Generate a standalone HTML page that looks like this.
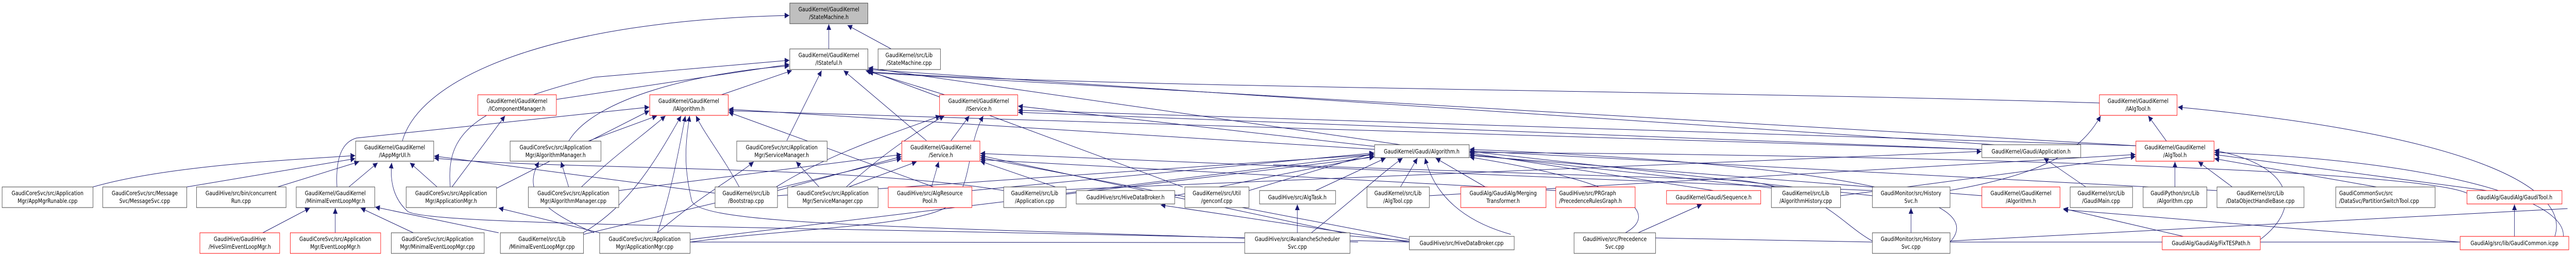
<!DOCTYPE html>
<html><head><meta charset="utf-8">
<style>
html,body{margin:0;padding:0;background:#fff;overflow:hidden;width:100%;height:100%;}
svg{display:block;width:100vw;height:100vh;}
text{font-family:"DejaVu Sans","Liberation Sans",sans-serif;font-size:11.5px;fill:#000;}
</style></head>
<body>
<svg viewBox="0 0 6070 499" preserveAspectRatio="none" xmlns="http://www.w3.org/2000/svg">
<defs>
<marker id="a" markerUnits="userSpaceOnUse" markerWidth="12" markerHeight="11" refX="11" refY="5.5" orient="auto">
<path d="M0,0 L11,5.5 L0,11 z" fill="#191970"/>
</marker>
</defs>
<rect width="6070" height="499" fill="#fff"/>
<g stroke="#191970" stroke-width="1" fill="none" marker-end="url(#a)">
<path d="M1953,95 L1953,47"/>
<path d="M2100,95 L1997,49"/>
<path d="M948,274 C990,150 1300,40 1860,30"/>
<path d="M1311,193 L1860,125"/>
<path d="M1340,274 C1400,190 1650,140 1860,128"/>
<path d="M1700,184 L1866,137"/>
<path d="M1854,273 L1936,137"/>
<path d="M2183,273 L1988,137"/>
<path d="M2226,184 L2040,137"/>
<path d="M1061,363 C1050,260 1110,210 1400,150 L1860,117"/>
<path d="M2787,363 L2046,137"/>
<path d="M3300,281 L2046,132"/>
<path d="M4700,281 L2046,135"/>
<path d="M4947,200 C4000,175 2500,170 2046,139"/>
<path d="M5033,283 L2046,141"/>
<path d="M219,363 C400,320 700,310 837,302"/>
<path d="M440,363 L837,308"/>
<path d="M654,363 L846,314"/>
<path d="M822,363 L890,316"/>
<path d="M1030,363 L966,316"/>
<path d="M3321,470 C2000,440 1000,440 960,410 C920,380 920,340 923,316"/>
<path d="M1684,375 L1023,303"/>
<path d="M2365,370 C2000,320 1300,330 1023,307"/>
<path d="M619,452 L730,404"/>
<path d="M790,452 L790,404"/>
<path d="M974,452 L850,404"/>
<path d="M1175,452 L884,402"/>
<path d="M1413,452 L1175,404"/>
<path d="M1065,363 L1190,225"/>
<path d="M1169,366 L1530,215"/>
<path d="M794,363 C790,300 810,275 840,268 L1530,208"/>
<path d="M1386,274 L1548,225"/>
<path d="M1370,363 C1450,300 1520,260 1568,225"/>
<path d="M1374,452 C1480,400 1540,320 1605,225"/>
<path d="M1742,363 C1700,300 1660,260 1640,225"/>
<path d="M1549,452 C1580,380 1600,290 1615,225"/>
<path d="M3200,470 C2200,440 1650,440 1630,390 C1610,320 1615,280 1625,225"/>
<path d="M3239,290 L1717,212"/>
<path d="M2200,363 L1717,218"/>
<path d="M4670,290 L1717,215"/>
<path d="M1340,363 L1322,314"/>
<path d="M1400,452 C1250,400 1240,360 1270,314"/>
<path d="M1930,363 L1876,314"/>
<path d="M1549,452 C1650,380 1740,340 1776,314"/>
<path d="M2241,273 L2284,225"/>
<path d="M1994,363 C2080,300 2150,260 2225,225"/>
<path d="M1829,363 C1950,300 2100,260 2216,225"/>
<path d="M1626,470 C1900,440 2200,440 2250,390 C2290,350 2280,280 2317,225"/>
<path d="M3300,290 L2399,206"/>
<path d="M5033,283 L2399,214"/>
<path d="M4670,290 L2399,218"/>
<path d="M2195,363 L2212,314"/>
<path d="M2000,363 L2160,314"/>
<path d="M1832,370 L2124,304"/>
<path d="M1375,455 L2124,308"/>
<path d="M1458,370 L2124,300"/>
<path d="M4412,370 L2310,298"/>
<path d="M3181,455 L2310,302"/>
<path d="M3321,465 L2310,306"/>
<path d="M3666,370 L2310,310"/>
<path d="M2512,370 L2310,313"/>
<path d="M3300,363 L3340,307"/>
<path d="M3500,363 L3383,307"/>
<path d="M3090,452 C3200,380 3250,340 3305,307"/>
<path d="M3100,370 L3265,307"/>
<path d="M3560,455 C3450,430 3380,380 3358,307"/>
<path d="M2943,370 L3238,297"/>
<path d="M2512,375 L3238,300"/>
<path d="M2768,380 L3238,303"/>
<path d="M1832,380 L3238,300"/>
<path d="M2290,370 L3238,297"/>
<path d="M1626,465 L3238,305"/>
<path d="M4038,370 L3463,297"/>
<path d="M4174,365 L3463,300"/>
<path d="M4412,380 L3463,294"/>
<path d="M4670,380 L3463,302"/>
<path d="M3830,452 C3900,420 3880,360 3463,305"/>
<path d="M4595,470 C4650,420 4620,330 3463,290"/>
<path d="M5224,370 L3463,293"/>
<path d="M5813,375 C5700,330 4500,300 3463,296"/>
<path d="M4915,363 L4816,307"/>
<path d="M2512,368 L4669,294"/>
<path d="M5105,274 L5062,225"/>
<path d="M4593,370 C4800,340 4900,300 4950,225"/>
<path d="M6020,459 C6060,360 5800,260 5132,208"/>
<path d="M5125,363 L5125,314"/>
<path d="M5260,363 L5180,314"/>
<path d="M3368,380 L5032,300"/>
<path d="M4337,380 L5032,304"/>
<path d="M5860,370 L5218,300"/>
<path d="M5600,363 L5218,308"/>
<path d="M6040,460 C6050,380 5700,310 5218,296"/>
<path d="M5326,465 C5430,400 5400,320 5218,292"/>
<path d="M5145,459 L4862,405"/>
<path d="M5797,470 L4862,407"/>
<path d="M5925,459 L5925,397"/>
<path d="M3860,452 L4010,397"/>
<path d="M4503,452 L4503,404"/>
<path d="M3057,452 L3057,397"/>
<path d="M3321,470 L2735,398"/>
</g>
<g stroke="#191970" stroke-width="1" fill="none">
<path d="M4595,470 L5797,470"/>
<path d="M3901,462 L4412,470"/>
<path d="M1626,470 L2933,471"/>
<path d="M3181,458 L3321,468"/>
<path d="M4595,468 C5200,440 5700,420 6050,405"/>
<path d="M4412,468 C4330,430 4300,370 4100,350 L3000,320"/>
</g>
<g stroke="#404040" stroke-width="1" fill="#fff">
<rect x="1861" y="6" width="184" height="40" fill="#bfbfbf"/>
<rect x="1861" y="95" width="184" height="40"/>
<rect x="2069" y="95" width="147" height="40"/>
<rect x="838" y="274" width="184" height="39"/>
<rect x="1202" y="274" width="214" height="39"/>
<rect x="1736" y="274" width="213" height="39"/>
<rect x="3239" y="281" width="223" height="25"/>
<rect x="4670" y="281" width="233" height="25"/>
<rect x="5" y="363" width="214" height="40"/>
<rect x="242" y="363" width="198" height="40"/>
<rect x="463" y="363" width="211" height="40"/>
<rect x="698" y="363" width="185" height="40"/>
<rect x="957" y="363" width="213" height="40"/>
<rect x="1245" y="363" width="213" height="40"/>
<rect x="1685" y="363" width="147" height="40"/>
<rect x="1856" y="363" width="213" height="40"/>
<rect x="2365" y="363" width="147" height="40"/>
<rect x="2536" y="370" width="232" height="26"/>
<rect x="2792" y="363" width="151" height="40"/>
<rect x="2968" y="370" width="179" height="26"/>
<rect x="3221" y="363" width="147" height="40"/>
<rect x="4174" y="363" width="163" height="40"/>
<rect x="4412" y="363" width="183" height="40"/>
<rect x="4878" y="363" width="147" height="40"/>
<rect x="5050" y="363" width="150" height="40"/>
<rect x="5224" y="363" width="205" height="40"/>
<rect x="5504" y="363" width="234" height="40"/>
<rect x="922" y="452" width="219" height="40"/>
<rect x="1179" y="452" width="196" height="40"/>
<rect x="1413" y="452" width="213" height="40"/>
<rect x="2933" y="452" width="248" height="40"/>
<rect x="3321" y="459" width="247" height="26"/>
<rect x="3709" y="452" width="192" height="40"/>
<rect x="4412" y="452" width="183" height="40"/>
</g>
<g stroke="#ff0000" stroke-width="1" fill="#fff">
<rect x="1126" y="184" width="185" height="40"/>
<rect x="1531" y="184" width="185" height="40"/>
<rect x="2214" y="184" width="184" height="40"/>
<rect x="4947" y="184" width="183" height="40"/>
<rect x="2125" y="274" width="184" height="39"/>
<rect x="5033" y="274" width="184" height="39"/>
<rect x="2093" y="363" width="197" height="40"/>
<rect x="3442" y="363" width="201" height="40"/>
<rect x="3666" y="363" width="187" height="40"/>
<rect x="3927" y="370" width="222" height="26"/>
<rect x="4670" y="363" width="184" height="40"/>
<rect x="5813" y="370" width="224" height="26"/>
<rect x="471" y="452" width="188" height="40"/>
<rect x="684" y="452" width="213" height="40"/>
<rect x="5095" y="459" width="231" height="26"/>
<rect x="5797" y="459" width="256" height="26"/>
</g>
<g text-anchor="middle">
<text x="1953" y="22">GaudiKernel/GaudiKernel</text><text x="1953" y="37">/StateMachine.h</text>
<text x="1953" y="111">GaudiKernel/GaudiKernel</text><text x="1953" y="126">/IStateful.h</text>
<text x="2142" y="111">GaudiKernel/src/Lib</text><text x="2142" y="126">/StateMachine.cpp</text>
<text x="1218" y="200">GaudiKernel/GaudiKernel</text><text x="1218" y="215">/IComponentManager.h</text>
<text x="1623" y="200">GaudiKernel/GaudiKernel</text><text x="1623" y="215">/IAlgorithm.h</text>
<text x="2306" y="200">GaudiKernel/GaudiKernel</text><text x="2306" y="215">/IService.h</text>
<text x="5038" y="200">GaudiKernel/GaudiKernel</text><text x="5038" y="215">/IAlgTool.h</text>
<text x="930" y="290">GaudiKernel/GaudiKernel</text><text x="930" y="305">/IAppMgrUI.h</text>
<text x="1309" y="290">GaudiCoreSvc/src/Application</text><text x="1309" y="305">Mgr/AlgorithmManager.h</text>
<text x="1842" y="290">GaudiCoreSvc/src/Application</text><text x="1842" y="305">Mgr/ServiceManager.h</text>
<text x="2217" y="290">GaudiKernel/GaudiKernel</text><text x="2217" y="305">/Service.h</text>
<text x="3350" y="298">GaudiKernel/Gaudi/Algorithm.h</text>
<text x="4786" y="298">GaudiKernel/Gaudi/Application.h</text>
<text x="5125" y="290">GaudiKernel/GaudiKernel</text><text x="5125" y="305">/AlgTool.h</text>
<text x="112" y="379">GaudiCoreSvc/src/Application</text><text x="112" y="394">Mgr/AppMgrRunable.cpp</text>
<text x="341" y="379">GaudiCoreSvc/src/Message</text><text x="341" y="394">Svc/MessageSvc.cpp</text>
<text x="568" y="379">GaudiHive/src/bin/concurrent</text><text x="568" y="394">Run.cpp</text>
<text x="790" y="379">GaudiKernel/GaudiKernel</text><text x="790" y="394">/MinimalEventLoopMgr.h</text>
<text x="1063" y="379">GaudiCoreSvc/src/Application</text><text x="1063" y="394">Mgr/ApplicationMgr.h</text>
<text x="1351" y="379">GaudiCoreSvc/src/Application</text><text x="1351" y="394">Mgr/AlgorithmManager.cpp</text>
<text x="1758" y="379">GaudiKernel/src/Lib</text><text x="1758" y="394">/Bootstrap.cpp</text>
<text x="1962" y="379">GaudiCoreSvc/src/Application</text><text x="1962" y="394">Mgr/ServiceManager.cpp</text>
<text x="2191" y="379">GaudiHive/src/AlgResource</text><text x="2191" y="394">Pool.h</text>
<text x="2438" y="379">GaudiKernel/src/Lib</text><text x="2438" y="394">/Application.cpp</text>
<text x="2652" y="387">GaudiHive/src/HiveDataBroker.h</text>
<text x="2867" y="379">GaudiKernel/src/Util</text><text x="2867" y="394">/genconf.cpp</text>
<text x="3057" y="387">GaudiHive/src/AlgTask.h</text>
<text x="3294" y="379">GaudiKernel/src/Lib</text><text x="3294" y="394">/AlgTool.cpp</text>
<text x="3542" y="379">GaudiAlg/GaudiAlg/Merging</text><text x="3542" y="394">Transformer.h</text>
<text x="4038" y="387">GaudiKernel/Gaudi/Sequence.h</text>
<text x="4255" y="379">GaudiKernel/src/Lib</text><text x="4255" y="394">/AlgorithmHistory.cpp</text>
<text x="4503" y="379">GaudiMonitor/src/History</text><text x="4503" y="394">Svc.h</text>
<text x="4762" y="379">GaudiKernel/GaudiKernel</text><text x="4762" y="394">/Algorithm.h</text>
<text x="4951" y="379">GaudiKernel/src/Lib</text><text x="4951" y="394">/GaudiMain.cpp</text>
<text x="5125" y="379">GaudiPython/src/Lib</text><text x="5125" y="394">/Algorithm.cpp</text>
<text x="5326" y="379">GaudiKernel/src/Lib</text><text x="5326" y="394">/DataObjectHandleBase.cpp</text>
<text x="5925" y="387">GaudiAlg/GaudiAlg/GaudiTool.h</text>
<text x="565" y="468">GaudiHive/GaudiHive</text><text x="565" y="483">/HiveSlimEventLoopMgr.h</text>
<text x="790" y="468">GaudiCoreSvc/src/Application</text><text x="790" y="483">Mgr/EventLoopMgr.h</text>
<text x="1031" y="468">GaudiCoreSvc/src/Application</text><text x="1031" y="483">Mgr/MinimalEventLoopMgr.cpp</text>
<text x="1277" y="468">GaudiKernel/src/Lib</text><text x="1277" y="483">/MinimalEventLoopMgr.cpp</text>
<text x="1519" y="468">GaudiCoreSvc/src/Application</text><text x="1519" y="483">Mgr/ApplicationMgr.cpp</text>
<text x="3057" y="468">GaudiHive/src/AvalancheScheduler</text><text x="3057" y="483">Svc.cpp</text>
<text x="3444" y="476">GaudiHive/src/HiveDataBroker.cpp</text>
<text x="3805" y="468">GaudiHive/src/Precedence</text><text x="3805" y="483">Svc.cpp</text>
<text x="4503" y="468">GaudiMonitor/src/History</text><text x="4503" y="483">Svc.cpp</text>
<text x="5210" y="476">GaudiAlg/GaudiAlg/FixTESPath.h</text>
<text x="5925" y="476">GaudiAlg/src/lib/GaudiCommon.icpp</text>
</g>
<g text-anchor="start">
<text x="3674" y="379">GaudiHive/src/PRGraph</text><text x="3674" y="394">/PrecedenceRulesGraph.h</text>
<text x="5512" y="379">GaudiCommonSvc/src</text><text x="5512" y="394">/DataSvc/PartitionSwitchTool.cpp</text>
</g>
</svg>
</body></html>
